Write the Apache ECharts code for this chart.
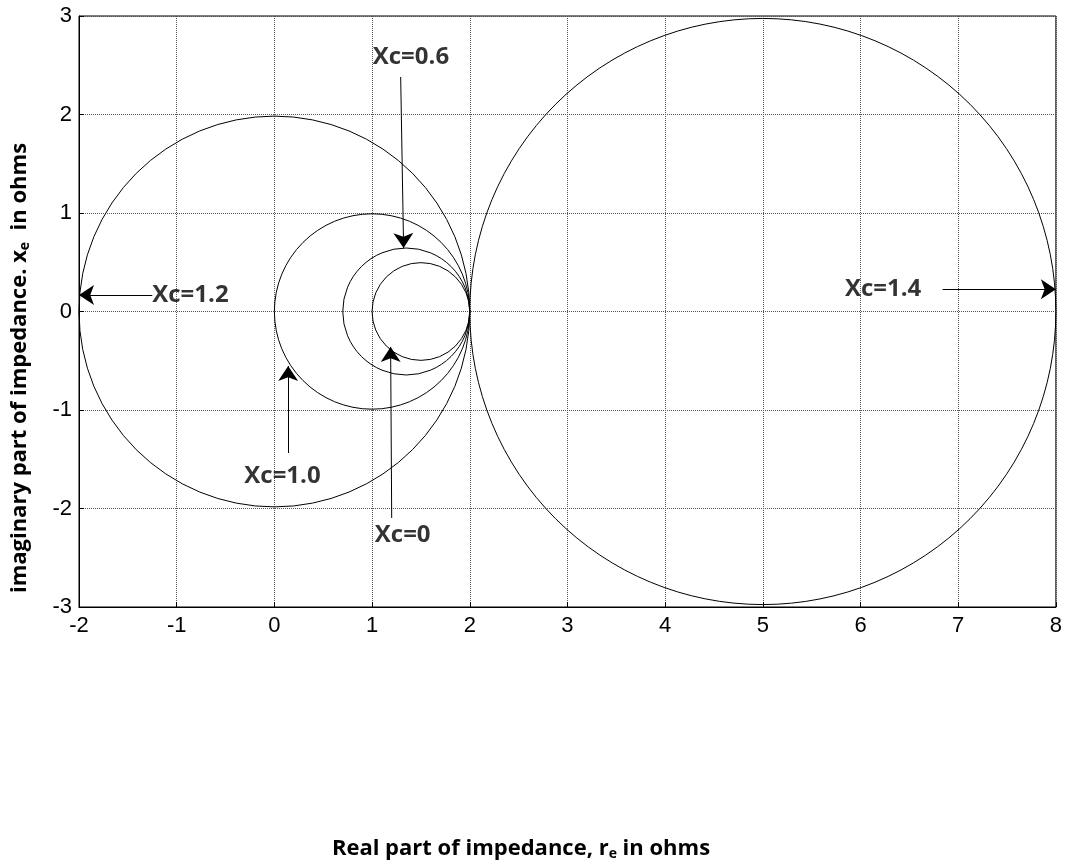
<!DOCTYPE html>
<html>
<head>
<meta charset="utf-8">
<script src="https://cdn.jsdelivr.net/npm/echarts@6/dist/echarts.min.js"></script>
<style>
html,body{margin:0;padding:0;background:#fff;}
#main{width:1065px;height:867px;}
</style>
</head>
<body>
<div id="main"></div>
<script>
// ---- data ----
const xTicks = [-2, -1, 0, 1, 2, 3, 4, 5, 6, 7, 8];
const yTicks = [-3, -2, -1, 0, 1, 2, 3];
// impedance circles: centre on real axis and radius (ohms)
const circleCentres = [1.5, 1.35, 1.0, 0.0, 5.0];
const circleRadii   = [0.5, 0.65, 1.0, 2.0, 3.0];
// annotations
const annLabels  = ['Xc=1.2', 'Xc=0.6', 'Xc=1.0', 'Xc=0', 'Xc=1.4'];
const annTextPos = [[-1.25, 0.165], [1.007, 2.584], [-0.308, -1.67], [1.028, -2.27], [5.84, 0.225]];
const arrowFrom  = [[-1.25, 0.168], [1.293, 2.381], [0.141, -1.437], [1.201, -2.096], [6.84, 0.225]];
const arrowTo    = [[-2.0, 0.168], [1.323, 0.645], [0.141, -0.553], [1.19, -0.36], [8.0, 0.225]];
const xName = ['Real part of impedance, r', 'e', ' in ohms'];
const yName = ['imaginary part of impedance. x', 'e', '  in ohms'];

const chart = echarts.init(document.getElementById('main'), null, {renderer: 'canvas'});

const circleData = circleCentres.map((c, i) => [c, 0, circleRadii[i]]);
const labelData = annTextPos.map((p, i) => ({value: p, label: {formatter: annLabels[i]}}));
const arrowData = arrowFrom.map((p, i) => ({coords: [p, arrowTo[i]]}));

const nameRich = {
  b: {fontFamily: 'Open Sans', fontWeight: 'bold', fontSize: 22, color: '#000', lineHeight: 30},
  s: {fontFamily: 'Open Sans', fontWeight: 'bold', fontSize: 14, color: '#000', lineHeight: 30, padding: [11, 0, 0, 0]}
};
function richName(parts) {
  return '{b|' + parts[0] + '}{s|' + parts[1] + '}{b|' + parts[2] + '}';
}

const option = {
  backgroundColor: '#fff',
  animation: false,
  grid: {left: 79, top: 16, right: 6, bottom: 260, show: true, borderColor: '#000', borderWidth: 1, backgroundColor: 'transparent'},
  xAxis: {
    type: 'value', min: xTicks[0], max: xTicks[xTicks.length - 1], interval: 1,
    axisLine: {show: true, onZero: false, lineStyle: {color: '#000', width: 1}},
    axisTick: {show: true, inside: true, length: 5, lineStyle: {color: '#000'}},
    axisLabel: {fontFamily: 'Liberation Sans', fontSize: 22, color: '#000', margin: 8},
    splitLine: {show: true, lineStyle: {color: '#555', type: 'dotted', width: 1}}
  },
  yAxis: {
    type: 'value', min: yTicks[0], max: yTicks[yTicks.length - 1], interval: 1,
    axisLine: {show: true, onZero: false, lineStyle: {color: '#000', width: 1}},
    axisTick: {show: true, inside: true, length: 5, lineStyle: {color: '#000'}},
    axisLabel: {fontFamily: 'Liberation Sans', fontSize: 22, color: '#000', margin: 7},
    splitLine: {show: true, lineStyle: {color: '#555', type: 'dotted', width: 1}}
  },
  graphic: [
    {type: 'text', x: 521, y: 849, style: {text: richName(xName), rich: nameRich, align: 'center', verticalAlign: 'middle'}},
    {type: 'text', x: 20, y: 368, rotation: Math.PI / 2, style: {text: richName(yName), rich: nameRich, align: 'center', verticalAlign: 'middle'}}
  ],
  series: [
    {
      type: 'custom',
      coordinateSystem: 'cartesian2d',
      encode: {x: 0, y: 1},
      data: circleData,
      silent: true,
      renderItem: function (params, api) {
        const c = api.coord([api.value(0), api.value(1)]);
        const r = api.size([api.value(2), 0])[0];
        return {type: 'circle', shape: {cx: c[0], cy: c[1], r: r}, style: {fill: 'none', stroke: '#000', lineWidth: 1}};
      }
    },
    {
      type: 'lines',
      coordinateSystem: 'cartesian2d',
      data: arrowData,
      symbol: ['none', 'arrow'],
      symbolSize: 15,
      lineStyle: {color: '#000', width: 1, opacity: 1},
      itemStyle: {color: '#000'},
      silent: true
    },
    {
      type: 'scatter',
      data: labelData,
      symbolSize: 0,
      silent: true,
      label: {show: true, position: 'right', distance: 0, align: 'left', verticalAlign: 'middle',
        fontFamily: 'Open Sans', fontWeight: 'bold', fontSize: 24, color: '#000'}
    }
  ]
};
chart.setOption(option);
</script>
</body>
</html>
